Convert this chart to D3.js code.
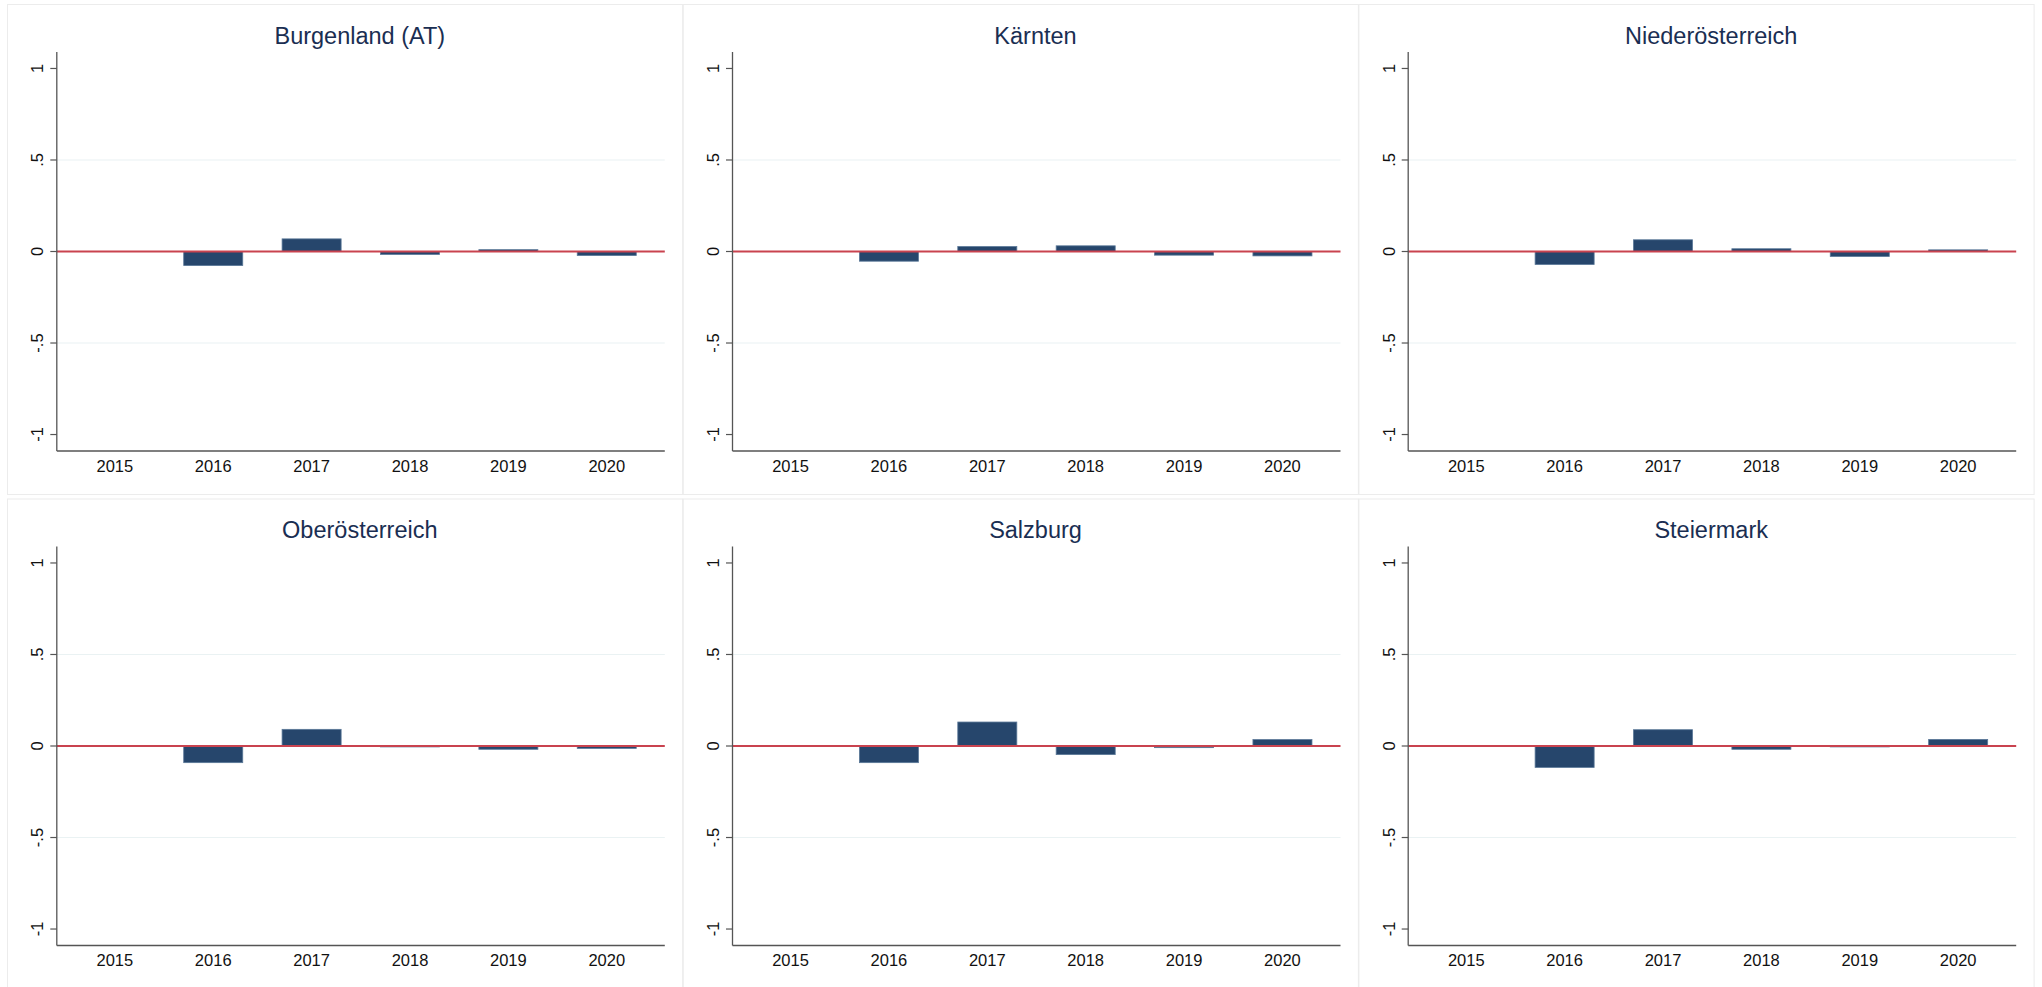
<!DOCTYPE html>
<html>
<head>
<meta charset="utf-8">
<script src="https://cdn.jsdelivr.net/npm/d3@7"></script>
<style>
  html, body { margin: 0; padding: 0; background: #ffffff; }
  svg { display: block; }
  text { font-family: "Liberation Sans", Arial, Helvetica, sans-serif; }
</style>
</head>
<body>
<svg id="chart" width="2042" height="987"></svg>
<script>
// ---- data ----
const years = ["2015", "2016", "2017", "2018", "2019", "2020"];
const regions = ["Burgenland (AT)", "Kärnten", "Niederösterreich", "Oberösterreich", "Salzburg", "Steiermark"];
const burgenland       = [0, -0.077,  0.069, -0.016,  0.010, -0.022];
const kaernten         = [0, -0.053,  0.027,  0.031, -0.020, -0.024];
const niederoesterreich= [0, -0.071,  0.064,  0.015, -0.027,  0.009];
const oberoesterreich  = [0, -0.091,  0.091, -0.005, -0.018, -0.013];
const salzburg         = [0, -0.091,  0.131, -0.047, -0.009,  0.035];
const steiermark       = [0, -0.117,  0.089, -0.018, -0.005,  0.036];
const yTickValues = [-1, -0.5, 0, 0.5, 1];
const yTickLabels = ["-1", "-.5", "0", ".5", "1"];
const gridValues = [-0.5, 0.5];

const seriesList = [burgenland, kaernten, niederoesterreich, oberoesterreich, salzburg, steiermark];

// ---- layout ----
const svg = d3.select("#chart");
const colStep = 675.7, rowStep = 494.5;
const frameX0 = 7, frameY0 = 4;

regions.forEach((name, i) => {
  const c = i % 3, r = Math.floor(i / 3);
  const ox = frameX0 + c * colStep;
  const oy = frameY0 + r * rowStep;
  const values = seriesList[i];
  const g = svg.append("g");

  // panel frame
  g.append("rect")
    .attr("x", ox + 0.5).attr("y", oy + 0.5)
    .attr("width", colStep - 0.5).attr("height", 490)
    .attr("fill", "none").attr("stroke", "#ececec").attr("stroke-width", 1);

  const left = ox + 49.8, right = ox + 657.8;
  const top = oy + 48, bottom = oy + 447;

  const x = d3.scaleBand().domain(years).range([left, right])
    .paddingInner(0.4).paddingOuter(0.29);
  const y = d3.scaleLinear().domain([-1.09, 1.09]).range([bottom, top]);

  // title
  g.append("text")
    .attr("x", (left + right) / 2 - 1)
    .attr("y", oy + 39.5)
    .attr("text-anchor", "middle")
    .attr("font-size", "23.5px")
    .attr("fill", "#1a2e52")
    .text(name);

  // gridlines
  g.selectAll(".grid").data(gridValues).enter().append("line")
    .attr("x1", left).attr("x2", right)
    .attr("y1", d => y(d)).attr("y2", d => y(d))
    .attr("stroke", "#eaf2f3").attr("stroke-width", 1.2);

  // bars
  g.selectAll(".bar").data(values.map((v, k) => ({ v, yr: years[k] })))
    .enter().append("rect")
    .attr("x", d => x(d.yr))
    .attr("width", x.bandwidth())
    .attr("y", d => y(Math.max(0, d.v)))
    .attr("height", d => Math.abs(y(d.v) - y(0)))
    .attr("fill", "#26466c")
    .attr("stroke", d => d.v === 0 ? "none" : "#5a7898")
    .attr("stroke-width", 0.8);

  // zero reference line
  g.append("line")
    .attr("x1", left).attr("x2", right)
    .attr("y1", y(0)).attr("y2", y(0))
    .attr("stroke", "#c9434f").attr("stroke-width", 1.8);

  // y axis
  g.append("line")
    .attr("x1", left).attr("x2", left)
    .attr("y1", top).attr("y2", bottom)
    .attr("stroke", "#555555").attr("stroke-width", 1.3);
  yTickValues.forEach((v, k) => {
    g.append("line")
      .attr("x1", left - 6.5).attr("x2", left)
      .attr("y1", y(v)).attr("y2", y(v))
      .attr("stroke", "#555555").attr("stroke-width", 1.2);
    g.append("text")
      .attr("transform", `translate(${left - 13.5},${y(v)}) rotate(-90)`)
      .attr("text-anchor", "middle")
      .attr("font-size", "16.5px")
      .attr("fill", "#111111")
      .text(yTickLabels[k]);
  });

  // x axis
  g.append("line")
    .attr("x1", left).attr("x2", right)
    .attr("y1", bottom).attr("y2", bottom)
    .attr("stroke", "#555555").attr("stroke-width", 1.3);
  years.forEach(yr => {
    g.append("text")
      .attr("x", x(yr) + x.bandwidth() / 2)
      .attr("y", bottom + 20.5)
      .attr("text-anchor", "middle")
      .attr("font-size", "16.5px")
      .attr("fill", "#111111")
      .text(yr);
  });
});
</script>
</body>
</html>
